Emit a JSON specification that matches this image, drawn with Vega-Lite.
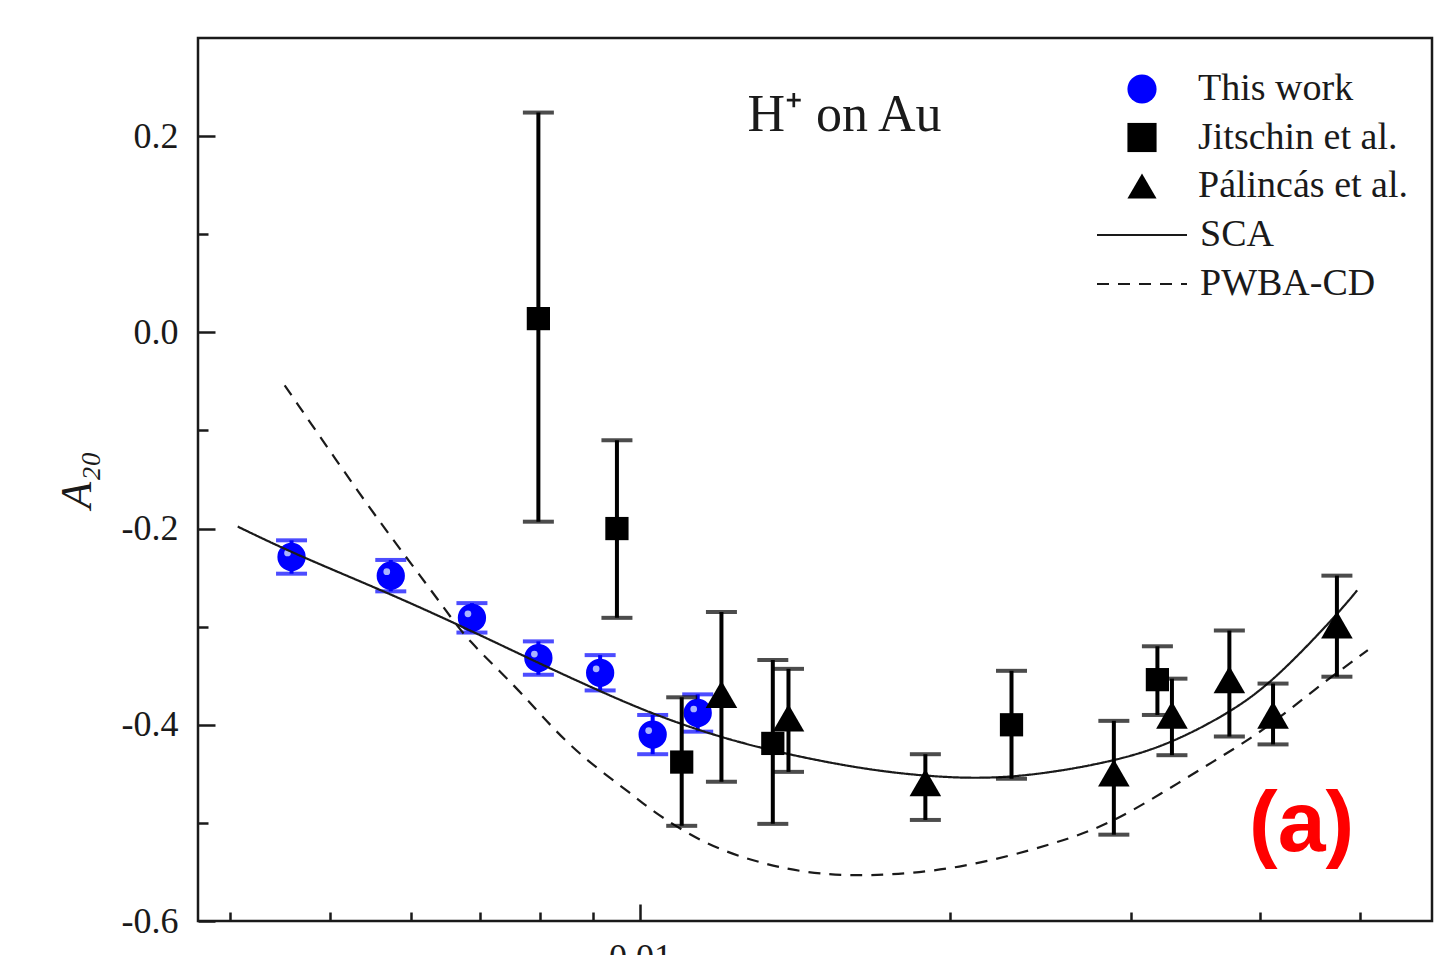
{
  "$schema": "https://vega.github.io/schema/vega-lite/v6.json",
  "autosize": "none",
  "width": 1234,
  "height": 883,
  "padding": {"left": 198, "top": 38, "right": 21, "bottom": 34},
  "background": "white",
  "config": {
    "view": {"stroke": "#1a1a1a", "strokeWidth": 2.5},
    "axis": {"labelFont": "Liberation Serif", "labelFontSize": 36, "labelColor": "#1a1a1a", "tickColor": "#1a1a1a", "tickWidth": 2.5, "domain": false, "grid": false, "titleFont": "Liberation Serif"},
    "legend": {"labelFont": "Liberation Serif", "labelFontSize": 38, "labelColor": "#1a1a1a", "padding": 0, "labelLimit": 400}
  },
  "datasets": {
    "pts": [
      {"series": "This work", "x": 0.00459, "y": -0.229, "lo": -0.246, "hi": -0.212},
      {"series": "This work", "x": 0.00573, "y": -0.248, "lo": -0.264, "hi": -0.232},
      {"series": "This work", "x": 0.00687, "y": -0.291, "lo": -0.306, "hi": -0.276},
      {"series": "This work", "x": 0.00797, "y": -0.332, "lo": -0.349, "hi": -0.315},
      {"series": "This work", "x": 0.00915, "y": -0.347, "lo": -0.365, "hi": -0.329},
      {"series": "This work", "x": 0.01029, "y": -0.410, "lo": -0.430, "hi": -0.390},
      {"series": "This work", "x": 0.01138, "y": -0.388, "lo": -0.407, "hi": -0.369},
      {"series": "Jitschin et al.", "x": 0.00797, "y": 0.014, "lo": -0.193, "hi": 0.224},
      {"series": "Jitschin et al.", "x": 0.0095, "y": -0.200, "lo": -0.291, "hi": -0.110},
      {"series": "Jitschin et al.", "x": 0.01098, "y": -0.438, "lo": -0.503, "hi": -0.372},
      {"series": "Jitschin et al.", "x": 0.01346, "y": -0.419, "lo": -0.501, "hi": -0.334},
      {"series": "Jitschin et al.", "x": 0.02295, "y": -0.400, "lo": -0.455, "hi": -0.345},
      {"series": "Jitschin et al.", "x": 0.0318, "y": -0.354, "lo": -0.390, "hi": -0.320},
      {"series": "Pálincás et al.", "x": 0.0120, "y": -0.369, "lo": -0.458, "hi": -0.285},
      {"series": "Pálincás et al.", "x": 0.01394, "y": -0.393, "lo": -0.448, "hi": -0.343},
      {"series": "Pálincás et al.", "x": 0.01893, "y": -0.459, "lo": -0.497, "hi": -0.430},
      {"series": "Pálincás et al.", "x": 0.02885, "y": -0.449, "lo": -0.512, "hi": -0.396},
      {"series": "Pálincás et al.", "x": 0.03285, "y": -0.390, "lo": -0.431, "hi": -0.353},
      {"series": "Pálincás et al.", "x": 0.03735, "y": -0.354, "lo": -0.412, "hi": -0.304},
      {"series": "Pálincás et al.", "x": 0.04118, "y": -0.390, "lo": -0.420, "hi": -0.358},
      {"series": "Pálincás et al.", "x": 0.0475, "y": -0.298, "lo": -0.351, "hi": -0.248}
    ],
    "curves": [
      {"model": "SCA", "x": 0.00407, "y": -0.198},
      {"model": "SCA", "x": 0.00460, "y": -0.225},
      {"model": "SCA", "x": 0.00571, "y": -0.266},
      {"model": "SCA", "x": 0.00679, "y": -0.302},
      {"model": "SCA", "x": 0.00797, "y": -0.337},
      {"model": "SCA", "x": 0.00915, "y": -0.366},
      {"model": "SCA", "x": 0.01029, "y": -0.389},
      {"model": "SCA", "x": 0.01173, "y": -0.410},
      {"model": "SCA", "x": 0.01346, "y": -0.427},
      {"model": "SCA", "x": 0.01617, "y": -0.444},
      {"model": "SCA", "x": 0.0190, "y": -0.453},
      {"model": "SCA", "x": 0.02282, "y": -0.456},
      {"model": "SCA", "x": 0.02885, "y": -0.438},
      {"model": "SCA", "x": 0.0328, "y": -0.419},
      {"model": "SCA", "x": 0.03735, "y": -0.388},
      {"model": "SCA", "x": 0.0412, "y": -0.356},
      {"model": "SCA", "x": 0.0475, "y": -0.288},
      {"model": "SCA", "x": 0.0497, "y": -0.263},
      {"model": "PWBA-CD", "x": 0.00452, "y": -0.054},
      {"model": "PWBA-CD", "x": 0.00541, "y": -0.173},
      {"model": "PWBA-CD", "x": 0.00589, "y": -0.225},
      {"model": "PWBA-CD", "x": 0.00648, "y": -0.283},
      {"model": "PWBA-CD", "x": 0.00679, "y": -0.313},
      {"model": "PWBA-CD", "x": 0.00758, "y": -0.361},
      {"model": "PWBA-CD", "x": 0.00820, "y": -0.402},
      {"model": "PWBA-CD", "x": 0.00886, "y": -0.436},
      {"model": "PWBA-CD", "x": 0.00989, "y": -0.473},
      {"model": "PWBA-CD", "x": 0.01022, "y": -0.486},
      {"model": "PWBA-CD", "x": 0.01146, "y": -0.520},
      {"model": "PWBA-CD", "x": 0.01286, "y": -0.539},
      {"model": "PWBA-CD", "x": 0.01442, "y": -0.551},
      {"model": "PWBA-CD", "x": 0.01655, "y": -0.555},
      {"model": "PWBA-CD", "x": 0.02034, "y": -0.548},
      {"model": "PWBA-CD", "x": 0.02557, "y": -0.520},
      {"model": "PWBA-CD", "x": 0.0287, "y": -0.500},
      {"model": "PWBA-CD", "x": 0.03221, "y": -0.469},
      {"model": "PWBA-CD", "x": 0.03608, "y": -0.437},
      {"model": "PWBA-CD", "x": 0.04047, "y": -0.405},
      {"model": "PWBA-CD", "x": 0.04539, "y": -0.362},
      {"model": "PWBA-CD", "x": 0.0509, "y": -0.324}
    ],
    "notes": [
      {"x": 0.0158, "y": 0.2056, "label": "H⁺ on Au", "kind": "title"},
      {"x": 0.0439, "y": -0.502, "label": "(a)", "kind": "panel"}
    ]
  },
  "resolve": {"axis": {"x": "independent", "y": "independent"}},
  "layer": [
    {
      "data": {"name": "curves"},
      "mark": {"type": "line", "opacity": 0},
      "encoding": {
        "x": {"field": "x", "type": "quantitative", "scale": {"type": "log", "domain": [0.003724, 0.05875], "nice": false},
              "axis": {"orient": "bottom", "values": [0.01], "format": ".2f", "tickSize": -17, "labelPadding": 36, "title": null}},
        "y": {"field": "y", "type": "quantitative", "scale": {"domain": [-0.6, 0.3], "nice": false, "zero": false},
              "axis": {"orient": "left", "values": [-0.6, -0.4, -0.2, 0, 0.2], "tickSize": -17, "labelPadding": 37,
                       "labelExpr": "datum.value < 0 ? '-' + format(-datum.value, '.1f') : format(datum.value, '.1f')",
                       "title": "A₂₀", "titleFontSize": 44, "titleFontStyle": "italic", "titleFontWeight": "normal", "titleColor": "#1a1a1a", "titlePadding": 22}}
      }
    },
    {
      "data": {"name": "curves"},
      "mark": {"type": "line", "opacity": 0},
      "encoding": {
        "x": {"field": "x", "type": "quantitative",
              "axis": {"orient": "bottom", "values": [0.004, 0.005, 0.006, 0.007, 0.008, 0.009, 0.02, 0.03, 0.04, 0.05], "labels": false, "tickSize": -9, "title": null}},
        "y": {"field": "y", "type": "quantitative",
              "axis": {"orient": "left", "values": [-0.5, -0.3, -0.1, 0.1], "labels": false, "tickSize": -10, "title": null}}
      }
    },
    {
      "data": {"name": "pts"},
      "transform": [{"filter": "datum.series === 'This work'"}],
      "layer": [
        {"mark": {"type": "rule", "strokeWidth": 4, "color": "#0000ff"},
         "encoding": {"x": {"field": "x", "type": "quantitative", "axis": null}, "y": {"field": "lo", "type": "quantitative", "axis": null}, "y2": {"field": "hi"}}},
        {"mark": {"type": "tick", "orient": "horizontal", "size": 31, "thickness": 4, "color": "#0000ff"},
         "encoding": {"x": {"field": "x", "type": "quantitative", "axis": null}, "y": {"field": "lo", "type": "quantitative", "axis": null}}},
        {"mark": {"type": "tick", "orient": "horizontal", "size": 31, "thickness": 4, "color": "#0000ff"},
         "encoding": {"x": {"field": "x", "type": "quantitative", "axis": null}, "y": {"field": "hi", "type": "quantitative", "axis": null}}}
      ]
    },
    {
      "data": {"name": "pts"},
      "transform": [{"filter": "datum.series === 'This work'"}],
      "mark": {"type": "point", "filled": true, "opacity": 1, "size": 800},
      "encoding": {
        "x": {"field": "x", "type": "quantitative", "axis": null},
        "y": {"field": "y", "type": "quantitative", "axis": null},
        "color": {"field": "series", "type": "nominal", "scale": {"domain": ["This work", "Jitschin et al.", "Pálincás et al."], "range": ["#0000ff", "#000000", "#000000"]},
                  "legend": {"orient": "none", "legendX": 925, "legendY": 32, "title": null, "labelOffset": 37, "rowPadding": 10.5, "symbolSize": 850}},
        "shape": {"field": "series", "type": "nominal", "scale": {"domain": ["This work", "Jitschin et al.", "Pálincás et al."], "range": ["circle", "square", "triangle-up"]}}
      }
    },
    {
      "data": {"name": "pts"},
      "transform": [{"filter": "datum.series === 'This work'"}],
      "mark": {"type": "point", "filled": true, "opacity": 0.85, "color": "#c8d4ff", "size": 45, "xOffset": -4, "yOffset": -4},
      "encoding": {
        "x": {"field": "x", "type": "quantitative", "axis": null},
        "y": {"field": "y", "type": "quantitative", "axis": null}
      }
    },
    {
      "data": {"name": "curves"},
      "mark": {"type": "line", "color": "#1a1a1a", "strokeWidth": 2.2, "interpolate": "basis"},
      "encoding": {
        "x": {"field": "x", "type": "quantitative", "axis": null},
        "y": {"field": "y", "type": "quantitative", "axis": null},
        "strokeDash": {"field": "model", "type": "nominal", "scale": {"domain": ["SCA", "PWBA-CD"], "range": [[1, 0], [12, 9]]},
                       "legend": {"orient": "none", "legendX": 925, "legendY": 178, "title": null, "labelOffset": 39, "rowPadding": 11,
                                  "symbolType": "M-3,0H3", "symbolSize": 900, "symbolStrokeColor": "#1a1a1a", "symbolStrokeWidth": 2.2}}
      }
    },
    {
      "data": {"name": "pts"},
      "transform": [{"filter": "datum.series !== 'This work'"}],
      "layer": [
        {"mark": {"type": "rule", "strokeWidth": 4, "color": "#000000"},
         "encoding": {"x": {"field": "x", "type": "quantitative", "axis": null}, "y": {"field": "lo", "type": "quantitative", "axis": null}, "y2": {"field": "hi"}}},
        {"mark": {"type": "tick", "orient": "horizontal", "size": 31, "thickness": 4, "color": "#000000"},
         "encoding": {"x": {"field": "x", "type": "quantitative", "axis": null}, "y": {"field": "lo", "type": "quantitative", "axis": null}}},
        {"mark": {"type": "tick", "orient": "horizontal", "size": 31, "thickness": 4, "color": "#000000"},
         "encoding": {"x": {"field": "x", "type": "quantitative", "axis": null}, "y": {"field": "hi", "type": "quantitative", "axis": null}}}
      ]
    },
    {
      "data": {"name": "pts"},
      "transform": [{"filter": "datum.series === 'Jitschin et al.'"}],
      "mark": {"type": "point", "filled": true, "opacity": 1, "size": 540},
      "encoding": {
        "x": {"field": "x", "type": "quantitative", "axis": null},
        "y": {"field": "y", "type": "quantitative", "axis": null},
        "color": {"field": "series", "type": "nominal"},
        "shape": {"field": "series", "type": "nominal"}
      }
    },
    {
      "data": {"name": "pts"},
      "transform": [{"filter": "datum.series === 'Pálincás et al.'"}],
      "mark": {"type": "point", "filled": true, "opacity": 1, "size": 1000},
      "encoding": {
        "x": {"field": "x", "type": "quantitative", "axis": null},
        "y": {"field": "y", "type": "quantitative", "axis": null},
        "color": {"field": "series", "type": "nominal"},
        "shape": {"field": "series", "type": "nominal"}
      }
    },
    {
      "data": {"name": "notes"},
      "transform": [{"filter": "datum.kind === 'title'"}],
      "mark": {"type": "text", "font": "Liberation Serif", "fontSize": 52, "color": "#1a1a1a", "align": "center", "baseline": "alphabetic"},
      "encoding": {
        "x": {"field": "x", "type": "quantitative", "axis": null},
        "y": {"field": "y", "type": "quantitative", "axis": null},
        "text": {"field": "label"}
      }
    },
    {
      "data": {"name": "notes"},
      "transform": [{"filter": "datum.kind === 'panel'"}],
      "mark": {"type": "text", "font": "Liberation Sans Narrow, Liberation Sans", "fontSize": 86, "fontWeight": "bold", "color": "#ff0000", "align": "center", "baseline": "middle"},
      "encoding": {
        "x": {"field": "x", "type": "quantitative", "axis": null},
        "y": {"field": "y", "type": "quantitative", "axis": null},
        "text": {"field": "label"}
      }
    }
  ]
}
